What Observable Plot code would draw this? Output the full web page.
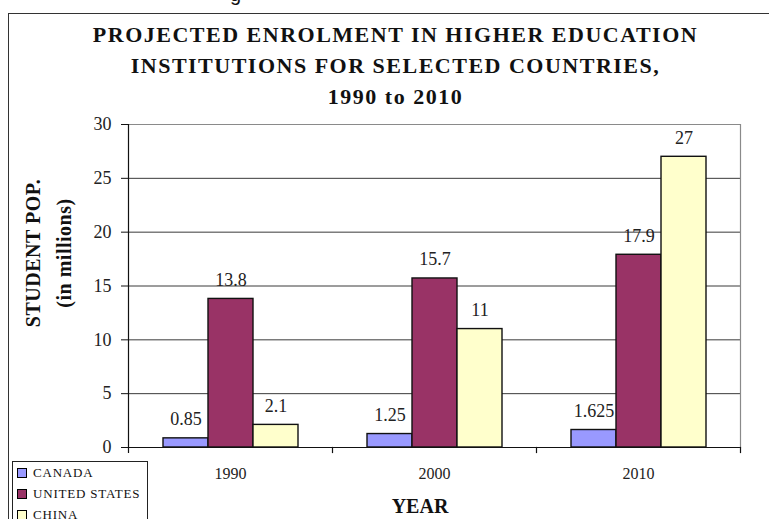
<!DOCTYPE html>
<html>
<head>
<meta charset="utf-8">
<script src="https://cdn.jsdelivr.net/npm/d3@7"></script>
<script src="https://cdn.jsdelivr.net/npm/@observablehq/plot@0.6"></script>
<style>
  html, body { margin: 0; padding: 0; background: #fff; }
  #wrap { position: relative; width: 769px; height: 519px; overflow: hidden; font-family: "Liberation Serif", "Times New Roman", serif; color: #111; }
  #frame { position: absolute; left: 8px; top: 13px; width: 820px; height: 600px; border: 1.5px solid #333; box-sizing: border-box; }
  #cut { position: absolute; left: 230px; top: -16px; font: 20px/20px "Liberation Sans", Arial, sans-serif; }
  #title { position: absolute; left: 0; top: 19px; width: 791px; text-align: center; font-weight: bold; font-size: 22px; line-height: 31px; letter-spacing: 1.5px; }
  #ylab { position: absolute; left: 49px; top: 253px; transform: translate(-50%, -50%) rotate(-90deg); white-space: nowrap; text-align: center; font-weight: bold; font-size: 20px; line-height: 31px; letter-spacing: 0.5px; }
  #xlab { position: absolute; left: 420px; top: 506px; transform: translate(-50%, -50%); font-weight: bold; font-size: 20px; white-space: nowrap; }
  #legend { position: absolute; left: 12px; top: 461px; width: 136px; height: 80px; border: 1px solid #222; box-sizing: border-box; background: #fff; }
  .item { position: absolute; left: 4px; height: 16px; display: flex; align-items: center; font-size: 13px; letter-spacing: 0.8px; white-space: nowrap; }
  .sw { width: 8px; height: 8px; border: 1px solid #000; margin-right: 6px; }
  #wrap svg { position: absolute; left: 0; top: 0; }
  #wrap svg text { font-family: "Liberation Serif", "Times New Roman", serif !important; }
</style>
</head>
<body>
<div id="wrap">
  <div id="frame"></div>
  <div id="cut">g</div>
  <div id="title"></div>
  <div id="ylab"></div>
  <div id="xlab"></div>
  <div id="legend"></div>
</div>
<script>
const titleLines = ["PROJECTED ENROLMENT IN HIGHER EDUCATION", "INSTITUTIONS FOR SELECTED COUNTRIES,", "1990 to 2010"];
const yLabelLines = ["STUDENT POP.", "(in millions)"];
const xLabel = "YEAR";
const years = ["1990", "2000", "2010"];
const countries = ["CANADA", "UNITED STATES", "CHINA"];
const canada = [0.85, 1.25, 1.625];
const unitedStates = [13.8, 15.7, 17.9];
const china = [2.1, 11, 27];
const colors = ["#9999FF", "#993366", "#FFFFCC"];
const yTicks = [0, 5, 10, 15, 20, 25, 30];

const series = [canada, unitedStates, china];
const data = years.flatMap((yr, i) => countries.map((c, j) => ({year: yr, country: c, value: series[j][i]})));

document.getElementById("title").innerHTML = titleLines.map(t => `<div>${t}</div>`).join("");
document.getElementById("ylab").innerHTML = yLabelLines.map(t => `<div>${t}</div>`).join("");
document.getElementById("xlab").textContent = xLabel;
document.getElementById("legend").innerHTML = countries.map((c, j) =>
  `<div class="item" style="top:${3 + j * 21}px"><div class="sw" style="background:${colors[j]}"></div>${c}</div>`).join("");

const W = 769, H = 519, mL = 127, mR = 29, mT = 124, mB = 72;
const chart = Plot.plot({
  width: W, height: H,
  marginLeft: mL, marginRight: mR, marginTop: mT, marginBottom: mB,
  style: {fontFamily: "'Liberation Serif', 'Times New Roman', serif", fontSize: "18px", background: "transparent", color: "#222"},
  fx: {domain: years, padding: 0},
  x: {domain: countries, paddingInner: 0, paddingOuter: 0.75},
  y: {domain: [0, 30]},
  color: {domain: countries, range: colors},
  marks: [
    Plot.ruleY(yTicks.filter(t => t > 0 && t < 30), {stroke: "#3a3a3a", strokeWidth: 1}),
    Plot.ruleY([30], {stroke: "#8a8a8a", strokeWidth: 1.2}),
    Plot.barY(data, {fx: "year", x: "country", y: "value", fill: "country", stroke: "#111", strokeWidth: 1.4}),
    Plot.text(data, {fx: "year", x: "country", y: "value", text: d => String(d.value), dy: -19, fontSize: 18, fill: "#222"}),
    Plot.ruleY([0], {stroke: "#111", strokeWidth: 1.2}),
    Plot.frame({facet: "super", anchor: "right", stroke: "#8a8a8a", strokeWidth: 1.2}),
    Plot.frame({facet: "super", anchor: "left", stroke: "#111", strokeWidth: 1.2, insetBottom: -5}),
    Plot.frame({anchor: "right", stroke: "#111", strokeWidth: 1.2, insetTop: H - mT - mB, insetBottom: -5}),
    Plot.axisY(yTicks, {tickSize: 7, tickPadding: 10, label: null, fontSize: 18, stroke: "#111"}),
    Plot.axisFx({anchor: "bottom", tickSize: 0, tickPadding: 20, label: null, fontSize: 16}),
    Plot.axisX({ticks: [], label: null})
  ]
});
document.getElementById("wrap").appendChild(chart);
</script>
</body>
</html>
